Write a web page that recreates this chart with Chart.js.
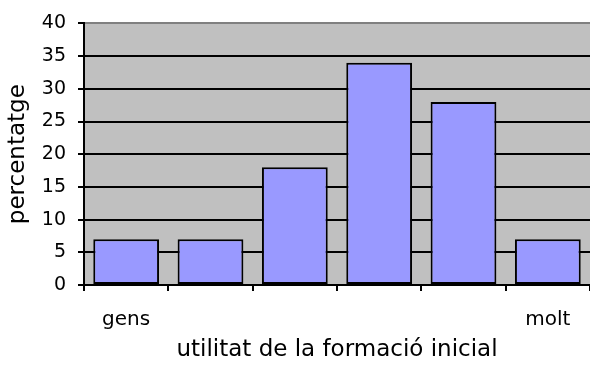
<!DOCTYPE html>
<html>
<head>
<meta charset="utf-8">
<script src="https://cdn.jsdelivr.net/npm/chart.js@4"></script>
<style>
    html, body { margin: 0; padding: 0; background: #fff; }
    #wrap { width: 590px; height: 368px; }
</style>
</head>
<body>
<div id="wrap"><canvas id="utilitatChart"></canvas></div>
<script>
// dades del gràfic
const categories = ['gens', '', '', '', '', 'molt'];
const percentatges = [7, 7, 18, 34, 28, 7];
const yTicks = [0, 5, 10, 15, 20, 25, 30, 35, 40];

const FONT = "'DejaVu Sans', Verdana, sans-serif";

// fons gris de l'àrea del gràfic
const plotBackground = {
    id: 'plotBackground',
    beforeDraw: function (chart) {
        const a = chart.chartArea;
        const ctx = chart.ctx;
        ctx.save();
        ctx.fillStyle = '#C0C0C0';
        ctx.fillRect(a.left, a.top, a.right - a.left, a.bottom - a.top);
        ctx.restore();
    }
};

document.addEventListener('DOMContentLoaded', function () {
    const canvas = document.getElementById('utilitatChart');
    new Chart(canvas, {
        type: 'bar',
        data: {
            labels: categories,
            datasets: [{
                label: 'percentatge',
                data: percentatges,
                backgroundColor: '#9999FF',
                borderColor: '#000000',
                borderWidth: 2,
                borderSkipped: false,
                barPercentage: 0.78,
                categoryPercentage: 1.0
            }]
        },
        options: {
            responsive: true,
            maintainAspectRatio: false,
            animation: false,
            layout: {
                padding: { top: 20, right: 0, bottom: 0, left: 0 }
            },
            plugins: {
                legend: { display: false },
                tooltip: { enabled: false }
            },
            scales: {
                y: {
                    min: yTicks[0],
                    max: yTicks[yTicks.length - 1],
                    afterFit: function (scale) { scale.width = 84; },
                    afterBuildTicks: function (scale) {
                        scale.ticks = yTicks.map(function (v) { return { value: v }; });
                    },
                    ticks: {
                        color: '#000',
                        padding: 12,
                        font: { family: FONT, size: 19 }
                    },
                    grid: {
                        color: function (ctx) {
                            return ctx.tick && ctx.tick.value === 40 ? '#808080' : '#000000';
                        },
                        tickColor: '#000000',
                        lineWidth: 2,
                        tickLength: 6
                    },
                    border: { color: '#000000', width: 2 },
                    title: {
                        display: true,
                        text: 'percentatge',
                        color: '#000',
                        font: { family: FONT, size: 23 },
                        padding: { top: 4, bottom: 4 }
                    }
                },
                x: {
                    afterFit: function (scale) { scale.height = 83; },
                    ticks: {
                        color: '#000',
                        padding: 17,
                        maxRotation: 0,
                        autoSkip: false,
                        font: { family: FONT, size: 20 }
                    },
                    grid: {
                        offset: true,
                        drawOnChartArea: false,
                        tickColor: '#000000',
                        lineWidth: 2,
                        tickLength: 6
                    },
                    border: { color: '#000000', width: 2 },
                    title: {
                        display: true,
                        text: 'utilitat de la formació inicial',
                        color: '#000',
                        font: { family: FONT, size: 23 },
                        padding: { top: 4, bottom: 4 }
                    }
                }
            }
        },
        plugins: [plotBackground]
    });
});
</script>
</body>
</html>
